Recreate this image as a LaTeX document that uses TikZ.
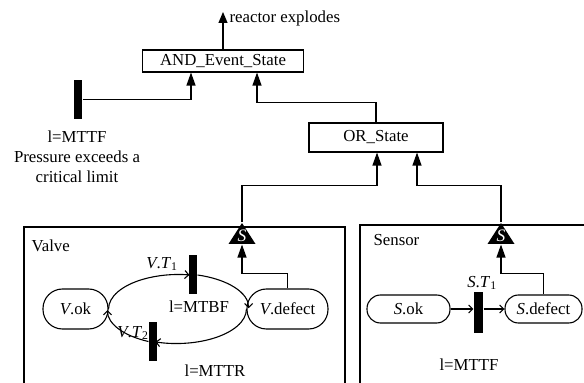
\documentclass[tikz,border=0pt]{standalone}
\usepackage{fontspec}
\setmainfont{Liberation Serif}
\usetikzlibrary{arrows.meta}

\begin{document}
\begin{tikzpicture}[x=1pt, y=1pt, line width=1.1pt,
  every node/.style={font=\fontsize{16.8}{20}\selectfont, inner sep=0pt},
  gatebox/.style={draw, line width=1.1pt},
  place/.style={draw, rounded corners=19.5pt, minimum height=40pt},
  splace/.style={draw, rounded corners=13.5pt, minimum height=28pt},
  tbar/.style={fill=black, minimum width=8pt, minimum height=39pt},
  flow/.style={-{Triangle[length=13pt,width=9pt]}},
  arc/.style={-{Straight Barb[length=4pt,width=8pt]}},
  sgate/.style={minimum width=27pt, minimum height=21pt, text=white,
    text height=16pt, font=\fontsize{17.5}{20}\selectfont\itshape,
    path picture={\fill[black] (path picture bounding box.south west)
      -- (path picture bounding box.south east)
      -- (path picture bounding box.north) -- cycle;}}
]
\useasboundingbox (0,0) rectangle (584,383);

% top event
\node[gatebox, minimum width=161pt, minimum height=22pt] (and) at (223,322) {AND\_Event\_State};
\coordinate (out) at (223,371);
\draw[-{Triangle[length=11pt,width=9pt]}] (and.north) -- (out);
\node[anchor=base west] (outlbl) at (229,360) {reactor explodes};

% pressure transition
\node[tbar] (pt) at (78,283.5) {};
\node[align=center] (plbl) at (77,226) {l=MTTF\\Pressure exceeds a\\critical limit};
\draw[flow] (pt.east) -| ([xshift=-32pt]and.south);

% OR state
\node[gatebox, minimum width=134pt, minimum height=29pt] (or) at (376,245.5) {OR\_State};
\draw[flow] (or.north) -- ++(0,20) -| ([xshift=34pt]and.south);

% component frames
\draw (24,-2) -- (24,156) -- (345,156) -- (345,-2);
\draw (360,-2) -- (360,158) -- (586,158);
\node[anchor=west] (vlbl) at (31,137) {Valve};
\node[anchor=west] (slbl) at (373,143) {Sensor};

% state gates
\node[sgate] (vs) at (242,149.5) {S};
\node[sgate] (ss) at (501,149.5) {S};
\draw[flow] (vs.north) -- ++(0,36.5) -| ([xshift=1pt]or.south);
\draw[flow] (ss.north) -- ++(0,36.5) -| ([xshift=41pt]or.south);

% valve net
\node[place, minimum width=65pt] (vok) at (75.5,74) {\textit{V}.ok};
\node[place, minimum width=81pt] (vdef) at (287.5,74) {\textit{V}.defect};
\node[tbar] (vt1) at (193,108) {};
\node[tbar] (vt2) at (153,41.5) {};
\draw[arc] (vok.east) arc[start angle=180, end angle=81, x radius=70, y radius=34.5];
\draw[arc] (vt1.east) arc[start angle=74.3, end angle=0, x radius=70, y radius=34.5];
\draw[arc] (vdef.west) arc[start angle=0, end angle=-107.5, x radius=70, y radius=34.5];
\draw[arc] (vt2.west) arc[start angle=-114.5, end angle=-180, x radius=70, y radius=34.5];
\node (vt1l) at (162,119) {\textit{V}.\textit{T}\textsubscript{1}};
\node (vt2l) at (133,50) {\textit{V}.\textit{T}\textsubscript{2}};
\node (mtbf) at (199,76) {l=MTBF};
\node (mttr) at (215,12) {l=MTTR};
\draw[flow] (vdef.north) -- ++(0,15) -| (vs.south);

% sensor net
\node[splace, minimum width=83pt] (sok) at (408.5,74) {\textit{S}.ok};
\node[splace, minimum width=77pt] (sdef) at (543.5,74) {\textit{S}.defect};
\node[tbar, minimum width=9pt, minimum height=41pt] (st1) at (478.5,70.5) {};
\draw[arc] (sok.east) -- (sok.east -| st1.west);
\draw[arc] (sok.east -| st1.east) -- (sdef.west);
\node (st1l) at (482,100) {\textit{S}.\textit{T}\textsubscript{1}};
\node (smttf) at (469,18) {l=MTTF};
\draw[flow] (sdef.north) -- ++(0,21) -| (ss.south);
\end{tikzpicture}
\end{document}
